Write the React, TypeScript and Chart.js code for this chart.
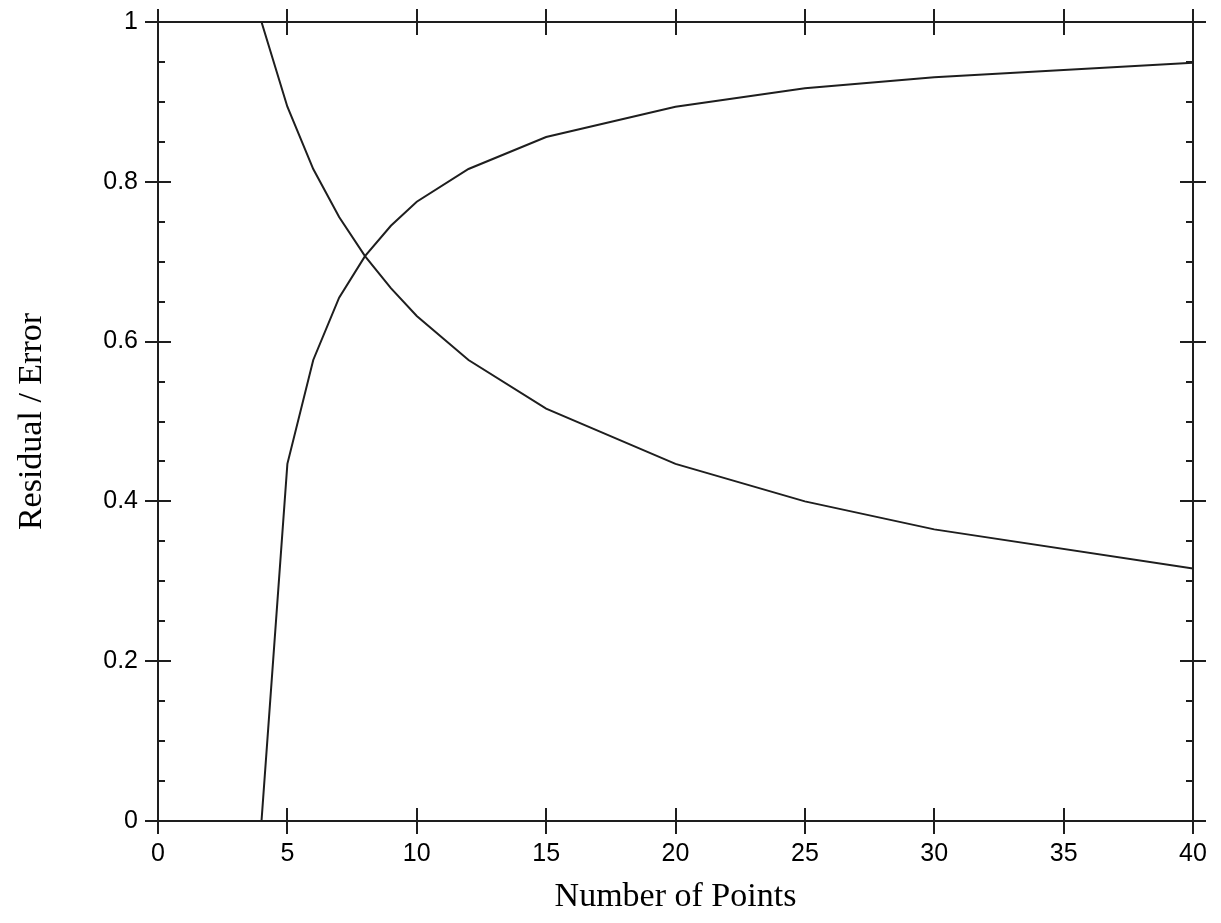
import React, { useEffect, useRef } from "react";
import { Chart, registerables } from "chart.js";

Chart.register(...registerables);

// Number of points (x) and the two curves
const nPoints = [4, 5, 6, 7, 8, 9, 10, 12, 15, 20, 25, 30, 40];
const residual = [1.0, 0.894, 0.816, 0.756, 0.707, 0.667, 0.632, 0.577, 0.516, 0.447, 0.4, 0.365, 0.316];
const errorCurve = [0.0, 0.447, 0.577, 0.655, 0.707, 0.745, 0.775, 0.816, 0.856, 0.894, 0.917, 0.931, 0.949];

const xTickLabels = ["0", "5", "10", "15", "20", "25", "30", "35", "40"];
const yTickLabels = ["0", "0.2", "0.4", "0.6", "0.8", "1"];
const yMinorStep = 0.05;

const INK = "#1e1e1e";

const frameTicksPlugin = {
  id: "frameTicks",
  afterDatasetsDraw(chart: any) {
    const { ctx, chartArea } = chart;
    const { left, right, top, bottom } = chartArea;
    const xs = chart.scales.x;
    const ys = chart.scales.y;
    ctx.save();
    ctx.strokeStyle = INK;
    ctx.lineWidth = 2;
    ctx.lineCap = "butt";
    ctx.beginPath();
    ctx.rect(left, top, right - left, bottom - top);
    ctx.stroke();
    const major = 13;
    const minor = 7;
    ctx.beginPath();
    xs.ticks.forEach((t: any) => {
      const px = Math.round(xs.getPixelForValue(t.value));
      ctx.moveTo(px, top - major);
      ctx.lineTo(px, top + major);
      ctx.moveTo(px, bottom - major);
      ctx.lineTo(px, bottom + major);
    });
    ys.ticks.forEach((t: any) => {
      const py = Math.round(ys.getPixelForValue(t.value));
      ctx.moveTo(left - major, py);
      ctx.lineTo(left + major, py);
      ctx.moveTo(right - major, py);
      ctx.lineTo(right + major, py);
    });
    const n = Math.round(1 / yMinorStep);
    for (let i = 0; i <= n; i++) {
      if (i % 4 === 0) continue;
      const py = Math.round(ys.getPixelForValue(i * yMinorStep));
      ctx.moveTo(left, py);
      ctx.lineTo(left + minor, py);
      ctx.moveTo(right, py);
      ctx.lineTo(right - minor, py);
    }
    ctx.stroke();
    ctx.restore();
  },
};

function fixSize(dim: "width" | "height", v: number) {
  return (s: any) => {
    s[dim] = v;
    s.paddingTop = 0;
    s.paddingBottom = 0;
    s.paddingLeft = 0;
    s.paddingRight = 0;
  };
}

export default function App() {
  const canvasRef = useRef<HTMLCanvasElement | null>(null);

  useEffect(() => {
    const canvas = canvasRef.current;
    if (!canvas) return;
    const tickFont = { family: "'Liberation Sans', Arial, sans-serif", size: 25 };
    const titleFont = { family: "'Liberation Serif', 'Times New Roman', serif", size: 34 };
    const chart = new Chart(canvas, {
      type: "line",
      data: {
        datasets: [
          {
            label: "Residual",
            data: nPoints.map((x, i) => ({ x, y: residual[i] })),
            borderColor: INK,
            borderWidth: 2,
            pointRadius: 0,
            tension: 0,
            fill: false,
          },
          {
            label: "Error",
            data: nPoints.map((x, i) => ({ x, y: errorCurve[i] })),
            borderColor: INK,
            borderWidth: 2,
            pointRadius: 0,
            tension: 0,
            fill: false,
          },
        ],
      },
      options: {
        responsive: false,
        animation: false,
        layout: { padding: 0 },
        plugins: {
          legend: { display: false },
          tooltip: { enabled: false },
        },
        scales: {
          x: {
            type: "linear",
            position: "bottom",
            min: 0,
            max: 40,
            grid: { display: false, drawTicks: false },
            border: { display: false },
            ticks: {
              stepSize: 5,
              color: "#000",
              font: tickFont,
              padding: 18,
              maxRotation: 0,
              callback: (_v: any, i: number) => xTickLabels[i],
            },
            title: {
              display: true,
              text: "Number of Points",
              color: "#000",
              font: titleFont,
              padding: { top: 0, bottom: 6 },
            },
            afterFit: fixSize("height", 102),
          },
          x2: {
            type: "linear",
            position: "top",
            min: 0,
            max: 40,
            grid: { display: false, drawTicks: false },
            border: { display: false },
            ticks: { display: false },
            afterFit: fixSize("height", 22),
          },
          y: {
            type: "linear",
            position: "left",
            min: 0,
            max: 1,
            grid: { display: false, drawTicks: false },
            border: { display: false },
            ticks: {
              stepSize: 0.2,
              color: "#000",
              font: tickFont,
              padding: 20,
              callback: (_v: any, i: number) => yTickLabels[i],
            },
            title: {
              display: true,
              text: "Residual / Error",
              color: "#000",
              font: titleFont,
              padding: { top: 12, bottom: 0 },
            },
            afterFit: fixSize("width", 158),
          },
          y2: {
            type: "linear",
            position: "right",
            min: 0,
            max: 1,
            grid: { display: false, drawTicks: false },
            border: { display: false },
            ticks: { display: false },
            afterFit: fixSize("width", 28),
          },
        },
      } as any,
      plugins: [frameTicksPlugin],
    });
    return () => chart.destroy();
  }, []);

  return (
    <div style={{ position: "fixed", left: 0, top: 0, width: 1221, height: 923, background: "#fff" }}>
      <canvas ref={canvasRef} width={1221} height={923} style={{ width: 1221, height: 923, display: "block" }} />
    </div>
  );
}
